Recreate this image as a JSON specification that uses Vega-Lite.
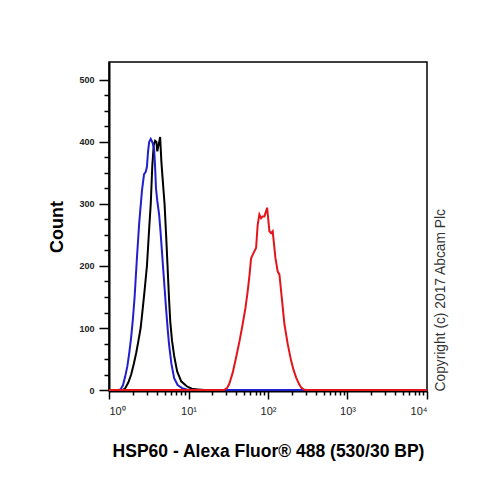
{
  "$schema": "https://vega.github.io/schema/vega-lite/v6.json",
  "width": 318,
  "height": 329,
  "autosize": {"type": "none"},
  "padding": {"left": 109, "top": 62, "right": 75, "bottom": 89},
  "background": "white",
  "config": {"view": {"stroke": "black", "strokeWidth": 1.5}, "font": "Liberation Sans"},
  "data": {"values": [
    {"s":"black","x":1,"y":0},{"s":"black","x":1.5,"y":0},{"s":"black","x":1.6,"y":3},{"s":"black","x":1.75,"y":12},{"s":"black","x":1.9,"y":25},{"s":"black","x":2.05,"y":42},{"s":"black","x":2.2,"y":60},{"s":"black","x":2.35,"y":80},{"s":"black","x":2.5,"y":100},{"s":"black","x":2.65,"y":130},{"s":"black","x":2.8,"y":160},{"s":"black","x":3.0,"y":200},{"s":"black","x":3.2,"y":260},{"s":"black","x":3.35,"y":300},{"s":"black","x":3.5,"y":360},{"s":"black","x":3.65,"y":395},{"s":"black","x":3.8,"y":402},{"s":"black","x":3.95,"y":400},{"s":"black","x":4.05,"y":385},{"s":"black","x":4.2,"y":395},{"s":"black","x":4.4,"y":408},{"s":"black","x":4.55,"y":370},{"s":"black","x":4.7,"y":345},{"s":"black","x":5.0,"y":300},{"s":"black","x":5.25,"y":245},{"s":"black","x":5.45,"y":200},{"s":"black","x":5.7,"y":145},{"s":"black","x":5.9,"y":110},{"s":"black","x":6.2,"y":80},{"s":"black","x":6.6,"y":55},{"s":"black","x":7.2,"y":30},{"s":"black","x":8.1,"y":14},{"s":"black","x":9.5,"y":6},{"s":"black","x":11,"y":2},{"s":"black","x":13,"y":1},{"s":"black","x":16,"y":0},{"s":"black","x":10000,"y":0},
    {"s":"blue","x":1,"y":0},{"s":"blue","x":1.3,"y":0},{"s":"blue","x":1.4,"y":1},{"s":"blue","x":1.5,"y":8},{"s":"blue","x":1.6,"y":22},{"s":"blue","x":1.7,"y":38},{"s":"blue","x":1.79,"y":58},{"s":"blue","x":1.9,"y":85},{"s":"blue","x":2.0,"y":115},{"s":"blue","x":2.1,"y":150},{"s":"blue","x":2.25,"y":215},{"s":"blue","x":2.4,"y":270},{"s":"blue","x":2.6,"y":322},{"s":"blue","x":2.76,"y":348},{"s":"blue","x":2.9,"y":352},{"s":"blue","x":3.0,"y":360},{"s":"blue","x":3.1,"y":385},{"s":"blue","x":3.2,"y":400},{"s":"blue","x":3.35,"y":405},{"s":"blue","x":3.5,"y":400},{"s":"blue","x":3.69,"y":390},{"s":"blue","x":3.8,"y":360},{"s":"blue","x":3.9,"y":325},{"s":"blue","x":4.05,"y":305},{"s":"blue","x":4.27,"y":283},{"s":"blue","x":4.45,"y":255},{"s":"blue","x":4.66,"y":219},{"s":"blue","x":5.0,"y":165},{"s":"blue","x":5.23,"y":130},{"s":"blue","x":5.5,"y":95},{"s":"blue","x":5.71,"y":72},{"s":"blue","x":6.1,"y":42},{"s":"blue","x":6.6,"y":19},{"s":"blue","x":7.3,"y":8},{"s":"blue","x":8.3,"y":3},{"s":"blue","x":9.5,"y":1},{"s":"blue","x":11,"y":0},{"s":"blue","x":10000,"y":0},
    {"s":"red","x":1,"y":0},{"s":"red","x":28,"y":0},{"s":"red","x":30.5,"y":3},{"s":"red","x":32.6,"y":10},{"s":"red","x":36,"y":28},{"s":"red","x":39.6,"y":52},{"s":"red","x":44,"y":80},{"s":"red","x":48,"y":106},{"s":"red","x":52,"y":132},{"s":"red","x":55.5,"y":159},{"s":"red","x":58.5,"y":185},{"s":"red","x":61.2,"y":212},{"s":"red","x":64.1,"y":218},{"s":"red","x":67.5,"y":224},{"s":"red","x":70.8,"y":229},{"s":"red","x":74.1,"y":266},{"s":"red","x":77.9,"y":283},{"s":"red","x":81.8,"y":277},{"s":"red","x":85.7,"y":280},{"s":"red","x":90.1,"y":280},{"s":"red","x":97.5,"y":294},{"s":"red","x":104.2,"y":256},{"s":"red","x":109.4,"y":253},{"s":"red","x":114.6,"y":256},{"s":"red","x":124,"y":213},{"s":"red","x":132.5,"y":191},{"s":"red","x":139.3,"y":186},{"s":"red","x":150.6,"y":143},{"s":"red","x":161,"y":106},{"s":"red","x":177,"y":74},{"s":"red","x":195.5,"y":47},{"s":"red","x":210,"y":32},{"s":"red","x":226,"y":20},{"s":"red","x":245,"y":10},{"s":"red","x":261,"y":4},{"s":"red","x":280,"y":1},{"s":"red","x":302,"y":0},{"s":"red","x":10000,"y":0}
  ]},
  "layer": [
    {
      "mark": {"type": "line", "strokeWidth": 2, "clip": true},
      "encoding": {
        "x": {
          "field": "x", "type": "quantitative",
          "scale": {"type": "log", "domain": [1, 10000], "nice": false},
          "axis": {
            "values": [1,2,3,4,5,6,7,8,9,10,20,30,40,50,60,70,80,90,100,200,300,400,500,600,700,800,900,1000,2000,3000,4000,5000,6000,7000,8000,9000,10000],
            "labelExpr": "datum.value == 1 ? '10⁰' : datum.value == 10 ? '10¹' : datum.value == 100 ? '10²' : datum.value == 1000 ? '10³' : datum.value == 10000 ? '10⁴' : ''",
            "labelOverlap": false,
            "labelFontSize": 11,
            "labelColor": "#222222",
            "labelPadding": 6,
            "tickColor": "black",
            "tickWidth": 1.5,
            "tickSize": {"condition": {"test": "indexof([1,10,100,1000,10000], datum.value) >= 0", "value": 8}, "value": 4},
            "domainColor": "black",
            "domainWidth": 2,
            "grid": false,
            "title": "HSP60 - Alexa Fluor® 488 (530/30 BP)",
            "titleFontSize": 17.5,
            "titleFontWeight": "bold",
            "titleColor": "black",
            "titlePadding": 26
          }
        },
        "y": {
          "field": "y", "type": "quantitative",
          "scale": {"domain": [-1.6, 529], "nice": false, "zero": false},
          "axis": {
            "values": [0,25,50,75,100,125,150,175,200,225,250,275,300,325,350,375,400,425,450,475,500],
            "labelExpr": "datum.value % 100 === 0 ? datum.label : ''",
            "labelOverlap": false,
            "labelFontSize": 9,
            "labelFontWeight": "bold",
            "labelColor": "#222222",
            "labelPadding": 5,
            "tickColor": "black",
            "tickWidth": 1.5,
            "tickSize": {"condition": {"test": "datum.value % 100 === 0", "value": 10}, "value": 5},
            "domainColor": "black",
            "domainWidth": 2,
            "grid": false,
            "title": "Count",
            "titleFontSize": 18,
            "titleFontWeight": "bold",
            "titleColor": "black",
            "titlePadding": 12
          }
        },
        "color": {
          "field": "s", "type": "nominal",
          "scale": {"domain": ["black", "blue", "red"], "range": ["#000000", "#2020cc", "#e3151b"]},
          "legend": null
        }
      }
    },
    {
      "mark": {"type": "rule", "opacity": 0},
      "encoding": {
        "y": {
          "field": "y", "type": "quantitative",
          "axis": {
            "orient": "right",
            "domain": false, "ticks": false, "labels": false, "grid": false,
            "title": "Copyright (c) 2017 Abcam Plc",
            "titleFontSize": 13.8,
            "titleFontWeight": "normal",
            "titleColor": "#333333",
            "titleAngle": 270,
            "titleAnchor": "start",
            "titleBaseline": "top",
            "titlePadding": 6
          }
        }
      }
    }
  ],
  "resolve": {"axis": {"y": "independent"}}
}
